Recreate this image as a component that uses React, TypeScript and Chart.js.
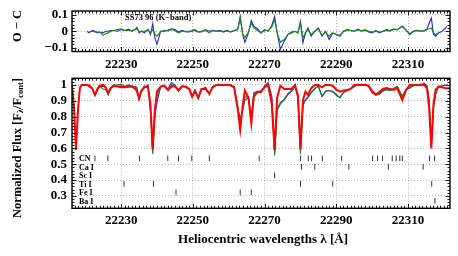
import React, { useEffect, useRef } from 'react';
import { Chart, registerables } from 'chart.js';

Chart.register(...registerables);

const FONT = '"Liberation Serif", "Times New Roman", serif';

// wavelength grid (Angstrom)
const WAVELENGTH = [
  22216.3, 22216.9, 22217.4, 22218.0, 22218.5, 22219.0, 22220.0, 22220.5, 22221.0, 22222.0,
  22222.7, 22223.4, 22224.0, 22225.0, 22225.7, 22226.4, 22227.1, 22228.0, 22229.0, 22230.0,
  22231.0, 22232.0, 22233.0, 22234.0, 22234.4, 22235.0, 22235.6, 22236.5, 22237.5, 22238.2,
  22238.8, 22239.4, 22240.0, 22241.0, 22242.0, 22243.1, 22244.0, 22245.0, 22246.0, 22247.0,
  22248.0, 22249.0, 22249.8, 22250.6, 22251.5, 22252.4, 22253.5, 22254.6, 22255.5, 22256.5,
  22257.5, 22258.5, 22259.5, 22260.5, 22261.5, 22262.5, 22263.2, 22263.9, 22264.5, 22265.5,
  22266.3, 22267.0, 22268.0, 22269.0, 22270.0, 22271.0, 22272.0, 22272.8, 22273.5, 22274.4,
  22275.5, 22276.5, 22277.5, 22278.5, 22279.3, 22280.0, 22280.7, 22281.4, 22282.1, 22283.0,
  22284.0, 22285.0, 22286.0, 22287.0, 22288.0, 22289.0, 22290.0, 22291.0, 22292.0, 22293.0,
  22294.0, 22295.0, 22296.0, 22297.0, 22298.0, 22299.0, 22300.0, 22301.0, 22302.0, 22303.0,
  22304.0, 22305.0, 22306.0, 22307.0, 22308.4, 22309.5, 22310.5, 22311.5, 22312.5, 22313.5,
  22314.5, 22315.3, 22315.9, 22316.5, 22317.1, 22317.7, 22318.5, 22319.5, 22320.5, 22320.8,
  22321.7,
];

// synthetic (model) spectrum, red
const MODEL_FLUX = [
  0.99, 0.85, 0.59, 0.85, 0.98, 1.0, 1.0, 1.0, 0.998, 0.975,
  0.937, 0.975, 0.995, 1.0, 0.985, 0.947, 0.98, 0.995, 0.99, 0.985,
  0.985, 0.988, 0.99, 0.975, 0.96, 0.916, 0.96, 0.99, 0.985, 0.87,
  0.594, 0.84, 0.96, 0.99, 0.995, 0.968, 0.99, 0.99, 0.968, 0.99,
  0.99, 0.975, 0.926, 0.96, 0.92, 0.975, 0.975, 0.947, 0.985, 1.0,
  1.0, 1.0, 1.0, 1.0, 0.985, 0.85, 0.718, 0.87, 0.965, 0.92,
  0.758, 0.926, 0.955, 0.96, 0.985, 1.0, 0.88, 0.59, 0.92, 0.995,
  0.975, 0.975, 0.975, 1.0, 0.93, 0.594, 0.905, 0.958, 0.937, 0.98,
  1.0, 1.0, 0.985, 1.0, 1.0, 0.995, 0.97, 0.958, 0.965, 0.968,
  0.975, 1.0, 1.0, 1.0, 1.0, 0.995, 0.96, 0.94, 0.955, 0.975,
  0.98, 0.975, 0.968, 0.98, 0.905, 0.97, 1.0, 1.0, 1.0, 1.0,
  1.0, 0.98, 0.85, 0.6, 0.88, 0.97, 0.99, 0.985, 0.98, 0.98,
  0.98,
];

// observed spectrum, blue
const OBS_BLUE = [
  null, null, null, null, null, null, null, 1.0, 0.99, 0.98,
  0.94, 0.965, 0.99, 0.99, 0.985, 0.947, 0.985, 1.0, 0.99, 0.995,
  0.99, 1.0, 0.99, 0.99, 0.985, 0.91, 0.96, 0.98, 1.0, 0.83,
  0.58, 0.8, 0.89, 0.99, 0.995, 0.975, 1.015, 1.0, 0.965, 0.995,
  0.985, 0.97, 0.93, 0.97, 0.915, 0.97, 0.985, 0.945, 0.99, 1.0,
  1.005, 0.995, 1.005, 0.995, 0.99, 0.86, 0.78, 0.84, 0.905, 0.92,
  0.8, 0.95, 0.96, 0.955, 0.995, 1.015, 0.93, 0.57, 0.84, 0.88,
  0.905, 0.94, 0.96, 0.99, 0.93, 0.585, 0.87, 0.905, 0.92, 0.95,
  0.975, 0.995, 0.93, 0.96, 0.965, 0.96, 0.94, 0.92, 0.95, 0.965,
  0.975, 0.99, 1.005, 1.0, 1.005, 0.99, 0.95, 0.937, 0.94, 0.965,
  0.975, 0.965, 0.98, 0.99, 0.926, 0.97, 0.98, 0.995, 1.0, 1.0,
  1.01, 0.995, 0.9, 0.63, 0.86, 0.94, 0.99, 0.995, 1.0, 1.0,
  null,
];

// observed spectrum, green
const OBS_GREEN = [
  null, null, null, null, null, null, null, null, 0.995, 0.975,
  0.935, 0.97, 0.99, 0.975, 0.97, 0.937, 0.98, 1.0, 1.0, 1.005,
  0.99, 0.995, 0.995, 0.985, 0.975, 0.91, 0.96, 0.99, 0.995, 0.84,
  0.565, 0.82, 0.93, 0.985, 1.0, 0.97, 1.0, 0.995, 0.958, 0.99,
  0.99, 0.975, 0.925, 0.965, 0.915, 0.975, 0.98, 0.937, 0.99, 1.0,
  1.0, 1.0, 1.0, 0.995, 0.99, 0.86, 0.77, 0.85, 0.925, 0.925,
  0.79, 0.945, 0.955, 0.95, 0.99, 1.005, 0.92, 0.555, 0.85, 0.89,
  0.91, 0.945, 0.965, 0.995, 0.92, 0.565, 0.88, 0.91, 0.925, 0.955,
  0.98, 0.99, 0.925, 0.96, 0.965, 0.955, 0.935, 0.92, 0.955, 0.965,
  0.975, 0.99, 1.0, 1.005, 1.0, 0.995, 0.955, 0.935, 0.945, 0.96,
  0.97, 0.965, 0.975, 0.99, 0.93, 0.975, 0.985, 0.995, 1.0, 1.005,
  1.0, 0.99, 0.88, 0.62, 0.87, 0.95, null, null, null, null,
  null,
];

// O - C residuals, blue
const RESID_BLUE = [
  null, null, null, null, null, null, null, 0.0, -0.01, 0.005,
  0.0, -0.01, -0.005, -0.01, 0.0, 0.0, 0.005, 0.005, 0.0, 0.01,
  0.005, 0.013, 0.0, 0.013, 0.024, -0.01, 0.0, -0.01, 0.013, -0.02,
  0.046, -0.04, -0.08, 0.0, 0.0, 0.007, 0.015, 0.01, -0.005, 0.005,
  -0.005, -0.005, 0.005, 0.01, -0.005, -0.005, 0.01, 0.0, 0.005, 0.0,
  0.005, -0.005, 0.005, -0.005, 0.005, 0.009, 0.09, -0.02, -0.067, -0.01,
  0.065, 0.03, 0.015, -0.01, 0.01, 0.0, 0.035, 0.09, -0.01, -0.11,
  -0.06, -0.02, -0.005, 0.0, -0.01, 0.06, -0.07, -0.01, 0.02, -0.03,
  0.0, 0.02, -0.03, 0.0, -0.05, -0.01, -0.02, -0.03, 0.0, 0.01,
  0.005, 0.0, 0.013, 0.0, 0.01, -0.005, -0.01, 0.005, -0.01, 0.0,
  0.01, 0.005, 0.013, 0.01, 0.03, 0.005, -0.021, 0.0, 0.005, 0.0,
  0.005, 0.013, 0.05, 0.08, -0.02, -0.03, -0.01, 0.0, 0.02, 0.03,
  null,
];

// O - C residuals, green
const RESID_GREEN = [
  null, null, null, null, null, null, null, null, -0.003, 0.0,
  -0.005, -0.005, -0.005, -0.025, -0.015, -0.01, 0.0, 0.005, 0.01, 0.015,
  0.005, 0.007, 0.005, 0.01, 0.015, -0.005, 0.0, 0.0, 0.008, -0.01,
  0.01, -0.02, -0.03, -0.005, 0.005, 0.002, 0.01, 0.005, -0.01, 0.0,
  0.0, 0.0, 0.0, 0.005, -0.005, 0.0, 0.005, -0.01, 0.005, 0.0,
  0.0, 0.0, 0.003, -0.003, 0.005, 0.01, 0.08, -0.015, -0.04, -0.005,
  0.05, 0.02, 0.005, -0.01, 0.005, 0.005, 0.025, 0.07, -0.01, -0.067,
  -0.05, -0.02, -0.01, 0.0, -0.01, 0.05, -0.04, -0.01, 0.01, -0.02,
  0.0, 0.015, -0.025, -0.005, -0.03, -0.01, -0.02, -0.025, 0.0, 0.005,
  0.005, 0.0, 0.008, 0.003, 0.005, 0.0, -0.005, 0.0, -0.005, 0.0,
  0.005, 0.0, 0.01, 0.01, 0.03, 0.005, -0.015, 0.0, 0.005, 0.003,
  0.0, 0.01, 0.015, 0.02, -0.01, -0.02, -0.01, null, null, null,
  null,
];

// line identifications
const SPECIES = ['CN', 'Ca I', 'Sc I', 'Ti I', 'Fe I', 'Ba I'];
const CN_LINES = [22222.7, 22226.3, 22235.1, 22243.0, 22246.0, 22249.7, 22254.6, 22268.5, 22280.0, 22282.2,
  22283.1, 22286.1, 22291.5, 22300.1, 22301.5, 22302.9, 22305.6, 22306.7, 22307.7, 22308.4, 22316.0, 22317.4];
const CA_LINES = [22280.3, 22284.0, 22293.5, 22304.5, 22314.2];
const SC_LINES = [22272.8];
const TI_LINES = [22230.8, 22239.0, 22280.0, 22289.0, 22316.6];
const FE_LINES = [22245.3, 22263.2, 22266.3];
const BA_LINES = [22317.5];
const LINE_LISTS = [CN_LINES, CA_LINES, SC_LINES, TI_LINES, FE_LINES, BA_LINES];

const X_TICKS = [22230, 22250, 22270, 22290, 22310];
const TOP_Y_TICKS = [0.1, 0, -0.1];
const BOTTOM_Y_TICKS = [1, 0.9, 0.8, 0.7, 0.6, 0.5, 0.4, 0.3];

const X_MIN = 22216.3;
const X_MAX = 22321.7;

const BLUE = 'rgb(40,40,200)';
const GREEN = 'rgb(25,135,25)';
const RED = 'rgb(255,0,0)';

const ROW_TOP = 0.537;
const ROW_STEP = 0.0536;

const pts = (ys: (number | null)[]) => WAVELENGTH.map((x, i) => ({ x, y: ys[i] }));

const fmtY = (v: number) => {
  const r = Math.round(v * 10) / 10;
  if (r === 0) return '0';
  return (r < 0 ? '\u2212' : '') + String(Math.abs(r));
};

function xScale(height: number, showLabels: boolean) {
  return {
    type: 'linear',
    min: X_MIN,
    max: X_MAX,
    afterBuildTicks: (s: any) => {
      s.ticks = X_TICKS.map((v) => ({ value: v }));
    },
    afterFit: (s: any) => {
      s.height = height;
      s.paddingLeft = 0;
      s.paddingRight = 0;
    },
    ticks: {
      display: showLabels,
      padding: 5,
      color: '#000',
      autoSkip: false,
      maxRotation: 0,
      font: { family: FONT, size: 13, weight: 'bold' },
      callback: (v: any) => String(v),
    },
    grid: { color: '#a0a0a0', lineWidth: 0.8, drawTicks: false },
    border: { display: false, dash: [1, 2] },
  };
}

function yScale(min: number, max: number, ticks: number[], pad: number) {
  return {
    type: 'linear',
    min,
    max,
    afterBuildTicks: (s: any) => {
      s.ticks = ticks.map((v) => ({ value: v }));
    },
    afterFit: (s: any) => {
      s.width = 72;
      s.paddingTop = 0;
      s.paddingBottom = 0;
    },
    ticks: {
      padding: pad,
      color: '#000',
      autoSkip: false,
      font: { family: FONT, size: 13, weight: 'bold' },
      callback: (v: any) => fmtY(Number(v)),
    },
    grid: { color: '#a0a0a0', lineWidth: 0.8, drawTicks: false },
    border: { display: false, dash: [1, 2] },
  };
}

function framePlugin(yMinor: number, yTicks: number[], drawText: (chart: any) => void) {
  return {
    id: 'frameAndText',
    afterDraw(chart: any) {
      const { ctx, chartArea: a, scales } = chart;
      const xs = scales.x;
      const ys = scales.y;
      ctx.save();
      ctx.strokeStyle = '#000';
      ctx.lineWidth = 0.9;
      ctx.beginPath();
      for (let v = Math.ceil(xs.min); v <= xs.max; v++) {
        const px = Math.round(xs.getPixelForValue(v)) + 0.5;
        const len = X_TICKS.includes(v) ? 4.5 : 2.5;
        ctx.moveTo(px, a.top);
        ctx.lineTo(px, a.top + len);
        ctx.moveTo(px, a.bottom);
        ctx.lineTo(px, a.bottom - len);
      }
      const k0 = Math.ceil(ys.min / yMinor - 1e-6);
      const k1 = Math.floor(ys.max / yMinor + 1e-6);
      for (let k = k0; k <= k1; k++) {
        const v = k * yMinor;
        const py = Math.round(ys.getPixelForValue(v)) + 0.5;
        const major = yTicks.some((t) => Math.abs(t - v) < 1e-6);
        const len = major ? 4.5 : 2.5;
        ctx.moveTo(a.left, py);
        ctx.lineTo(a.left + len, py);
        ctx.moveTo(a.right, py);
        ctx.lineTo(a.right - len, py);
      }
      ctx.stroke();
      ctx.lineWidth = 1.4;
      ctx.strokeRect(a.left, a.top, a.right - a.left, a.bottom - a.top);
      ctx.restore();
      drawText(chart);
    },
  };
}

function drawTopText(chart: any) {
  const ctx = chart.ctx;
  ctx.save();
  ctx.fillStyle = '#000';
  ctx.font = `bold 8.5px ${FONT}`;
  ctx.textBaseline = 'middle';
  ctx.textAlign = 'left';
  ctx.fillText('SS73 96 (K\u2212band)', 125, 18);
  ctx.translate(18, 26);
  ctx.rotate(-Math.PI / 2);
  ctx.font = `bold 12.5px ${FONT}`;
  ctx.textAlign = 'center';
  ctx.fillText('O \u2212 C', 0, 0);
  ctx.restore();
}

function drawBottomText(chart: any) {
  const ctx = chart.ctx;
  const a = chart.chartArea;
  const ys = chart.scales.y;
  ctx.save();
  ctx.fillStyle = '#000';
  ctx.font = `bold 8px ${FONT}`;
  ctx.textBaseline = 'middle';
  ctx.textAlign = 'left';
  SPECIES.forEach((name, i) => {
    ctx.fillText(name, a.left + 7, ys.getPixelForValue(ROW_TOP - i * ROW_STEP) + 1);
  });
  // x title
  ctx.font = `bold 13px ${FONT}`;
  ctx.textAlign = 'center';
  ctx.fillText('Heliocentric wavelengths \u03bb [\u00c5]', 263, 168);
  // y title with subscripts
  const parts = [
    { t: 'Normalized Flux [F', s: 12.5, dy: 0 },
    { t: '\u03bb', s: 8.5, dy: 3 },
    { t: '/F', s: 12.5, dy: 0 },
    { t: 'cont', s: 8.5, dy: 3 },
    { t: ']', s: 12.5, dy: 0 },
  ];
  let total = 0;
  const widths = parts.map((p) => {
    ctx.font = `bold ${p.s}px ${FONT}`;
    const w = ctx.measureText(p.t).width;
    total += w;
    return w;
  });
  ctx.translate(18, 76);
  ctx.rotate(-Math.PI / 2);
  ctx.textAlign = 'left';
  let x = -total / 2;
  parts.forEach((p, i) => {
    ctx.font = `bold ${p.s}px ${FONT}`;
    ctx.fillText(p.t, x, p.dy);
    x += widths[i];
  });
  ctx.restore();
}

const lineDs = (label: string, data: any, color: string, width: number, order: number) => ({
  label,
  data,
  borderColor: color,
  backgroundColor: color,
  borderWidth: width,
  pointRadius: 0,
  tension: 0,
  spanGaps: false,
  order,
});

export default function App() {
  const topRef = useRef<HTMLCanvasElement>(null);
  const botRef = useRef<HTMLCanvasElement>(null);

  useEffect(() => {
    const topChart = new Chart(topRef.current as HTMLCanvasElement, {
      type: 'line',
      data: {
        datasets: [
          lineDs('O-C green', pts(RESID_GREEN), GREEN, 1.1, 0),
          lineDs('O-C blue', pts(RESID_BLUE), BLUE, 1.1, 1),
        ],
      },
      options: {
        responsive: false,
        animation: false,
        layout: { padding: { top: 11, right: 8, left: 0, bottom: 0 } },
        plugins: { legend: { display: false }, tooltip: { enabled: false } },
        scales: {
          x: xScale(76 - 51.5, true),
          y: yScale(-0.123, 0.123, TOP_Y_TICKS, 4),
        } as any,
      },
      plugins: [framePlugin(0.02, TOP_Y_TICKS, drawTopText)],
    } as any);

    const lineSets = LINE_LISTS.map((list, i) => ({
      label: SPECIES[i],
      data: list.map((x) => ({ x, y: ROW_TOP - i * ROW_STEP })),
      showLine: false,
      pointStyle: 'line',
      rotation: 90,
      pointRadius: 2.8,
      pointBorderWidth: 1,
      borderColor: '#333',
      backgroundColor: '#333',
      order: 5,
    }));

    const botChart = new Chart(botRef.current as HTMLCanvasElement, {
      type: 'line',
      data: {
        datasets: [
          lineDs('model', pts(MODEL_FLUX), RED, 2, 0),
          lineDs('green', pts(OBS_GREEN), GREEN, 1.1, 1),
          lineDs('blue', pts(OBS_BLUE), BLUE, 1.1, 2),
          ...lineSets,
        ],
      },
      options: {
        responsive: false,
        animation: false,
        layout: { padding: { top: 78.3 - 72, right: 8, left: 0, bottom: 0 } },
        plugins: { legend: { display: false }, tooltip: { enabled: false } },
        scales: {
          x: xScale(184 - (208.3 - 72), true),
          y: yScale(0.222, 1.042, BOTTOM_Y_TICKS, 5),
        } as any,
      },
      plugins: [framePlugin(0.02, BOTTOM_Y_TICKS, drawBottomText)],
    } as any);

    return () => {
      topChart.destroy();
      botChart.destroy();
    };
  }, []);

  return (
    <div style={{ position: 'absolute', left: 0, top: 0, width: 458, height: 256, background: '#fff' }}>
      <canvas ref={topRef} width={458} height={76} style={{ position: 'absolute', left: 0, top: 0 }} />
      <canvas ref={botRef} width={458} height={184} style={{ position: 'absolute', left: 0, top: 72 }} />
    </div>
  );
}
